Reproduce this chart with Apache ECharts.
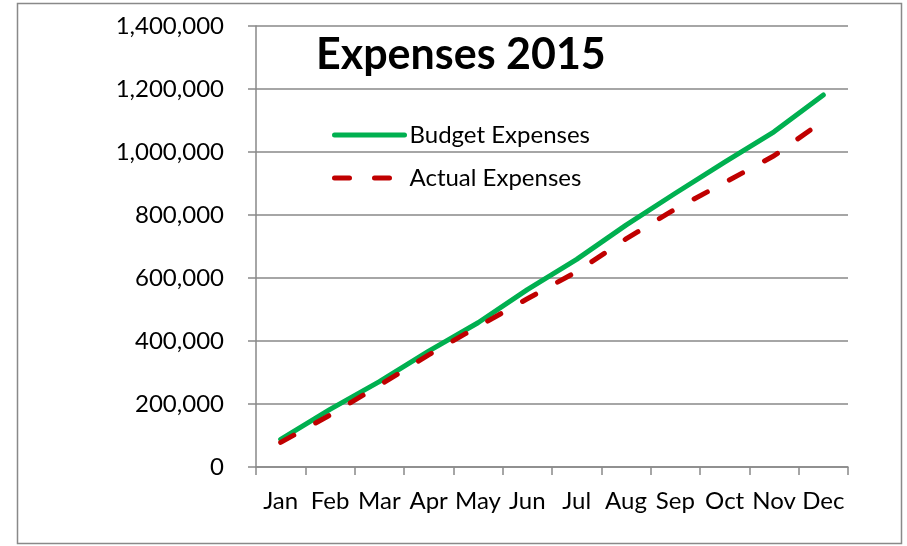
<!DOCTYPE html>
<html>
<head>
<meta charset="utf-8">
<script src="https://cdn.jsdelivr.net/npm/echarts@6/dist/echarts.min.js"></script>
<style>
  html, body { margin: 0; padding: 0; background: #fff; }
  #chart { width: 907px; height: 546px; }
</style>
</head>
<body>
<div id="chart"></div>
<script>
  // values
  const months = ['Jan', 'Feb', 'Mar', 'Apr', 'May', 'Jun', 'Jul', 'Aug', 'Sep', 'Oct', 'Nov', 'Dec'];
  const budgetExpenses = [88000, 183000, 271000, 368000, 458000, 563000, 659000, 768000, 869000, 968000, 1064000, 1181000];
  const actualExpenses = [78000, 165000, 259000, 356000, 446000, 534000, 620000, 724000, 819000, 903000, 988000, 1099000];
  const yTicks = [0, 200000, 400000, 600000, 800000, 1000000, 1200000, 1400000];

  const font = 'Lato';
  const gridColor = '#898989';

  const chart = echarts.init(document.getElementById('chart'), null, { renderer: 'canvas' });

  chart.setOption({
    animation: false,
    backgroundColor: '#fff',
    title: {
      text: 'Expenses 2015',
      left: 311,
      top: 29,
      textStyle: { fontFamily: font, fontWeight: 'bold', fontSize: 43, color: '#000' }
    },
    legend: {
      orient: 'vertical',
      left: 327,
      top: 118,
      padding: 5,
      itemWidth: 70,
      itemHeight: 18,
      itemGap: 19,
      itemStyle: { opacity: 0 },
      lineStyle: { width: 5, cap: 'round' },
      textStyle: { fontFamily: font, fontSize: 24, color: '#000' },
      data: ['Budget Expenses', 'Actual Expenses']
    },
    grid: { left: 256, right: 59, top: 26, bottom: 79, containLabel: false },
    xAxis: {
      type: 'category',
      data: months,
      boundaryGap: true,
      axisLine: { lineStyle: { color: gridColor, width: 1.5 } },
      axisTick: { show: true, length: 8, alignWithLabel: false, lineStyle: { color: gridColor, width: 1.5 } },
      axisLabel: { fontFamily: font, fontSize: 24, color: '#000', margin: 22, interval: 0 }
    },
    yAxis: {
      type: 'value',
      min: yTicks[0],
      max: yTicks[yTicks.length - 1],
      interval: yTicks[1] - yTicks[0],
      axisLine: { show: true, lineStyle: { color: gridColor, width: 1.5 } },
      axisTick: { show: true, length: 8, lineStyle: { color: gridColor, width: 1.5 } },
      splitLine: { lineStyle: { color: gridColor, width: 1.5 } },
      axisLabel: {
        fontFamily: font, fontSize: 24, color: '#000', margin: 32,
        formatter: v => v.toLocaleString('en-US')
      }
    },
    series: [
      {
        name: 'Budget Expenses',
        type: 'line',
        data: budgetExpenses,
        symbol: 'none',
        color: '#00B050',
        lineStyle: { color: '#00B050', width: 5, cap: 'round', join: 'round' },
        z: 2
      },
      {
        name: 'Actual Expenses',
        type: 'line',
        data: actualExpenses,
        symbol: 'none',
        color: '#C00000',
        lineStyle: { color: '#C00000', width: 5, type: [15, 25], cap: 'round', join: 'round' },
        z: 3
      }
    ],
    graphic: [
      {
        type: 'rect',
        shape: { x: 17.5, y: 3.5, width: 884, height: 540 },
        style: { fill: null, stroke: gridColor, lineWidth: 1.5 },
        silent: true,
        z: -1
      }
    ]
  });
</script>
</body>
</html>
